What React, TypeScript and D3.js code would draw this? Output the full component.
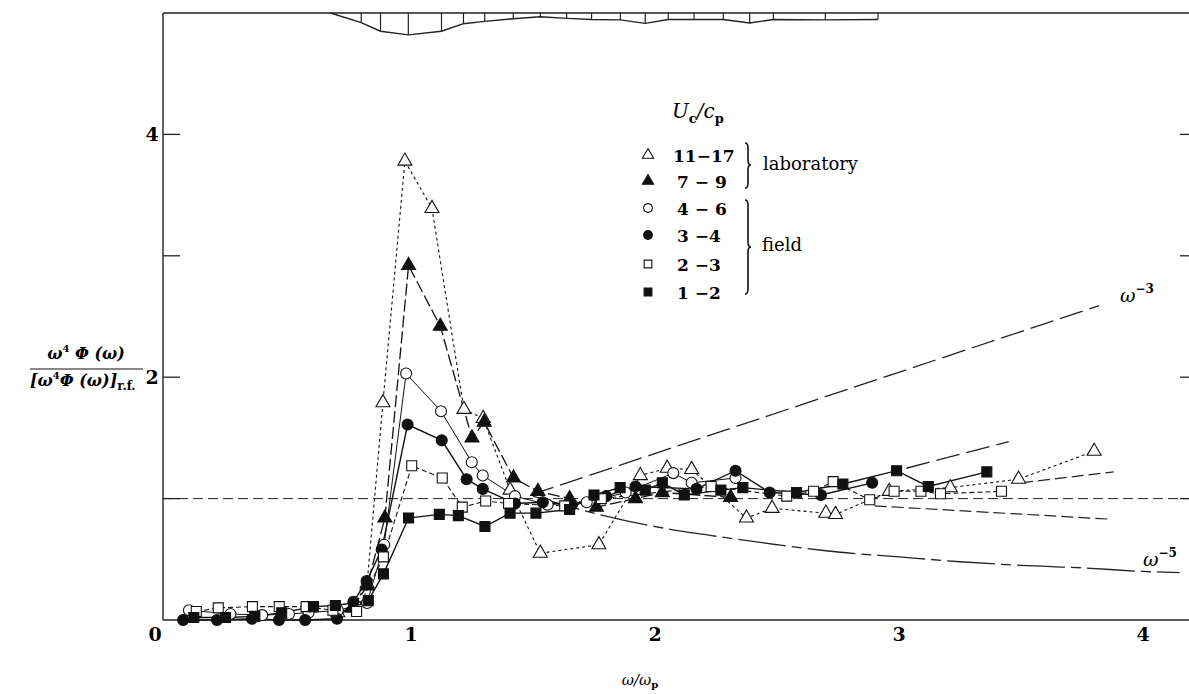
import React from 'react';
import * as d3 from 'd3';

const W = 1189;
const H = 694;

// ---- data: U_c/c_p = 11-17 (laboratory, open triangles)
const s1117X = [0.70, 0.76, 0.82, 0.885, 0.975, 1.086, 1.217, 1.296, 1.406, 1.53, 1.77, 1.94, 2.05, 2.15, 2.375, 2.48, 2.70, 2.74, 2.96, 3.21, 3.49, 3.80];
const s1117Y = [0.06, 0.10, 0.30, 1.79, 3.78, 3.39, 1.735, 1.66, 1.07, 0.55, 0.62, 1.19, 1.25, 1.24, 0.84, 0.92, 0.88, 0.87, 1.06, 1.09, 1.16, 1.39];
// 7-9 (laboratory, filled triangles)
const s79X = [0.76, 0.82, 0.893, 0.99, 1.12, 1.25, 1.30, 1.42, 1.52, 1.65, 1.76, 1.92, 2.03, 2.31];
const s79Y = [0.10, 0.28, 0.84, 2.92, 2.42, 1.50, 1.63, 1.17, 1.06, 1.00, 0.93, 1.00, 1.05, 1.01];
// 4-6 (field, open circles)
const s46X = [0.09, 0.26, 0.39, 0.50, 0.58, 0.70, 0.82, 0.89, 0.98, 1.123, 1.249, 1.294, 1.426, 1.56, 1.72, 1.88, 2.075, 2.15, 2.33];
const s46Y = [0.08, 0.05, 0.04, 0.05, 0.06, 0.08, 0.14, 0.62, 2.03, 1.72, 1.30, 1.19, 1.02, 0.95, 0.97, 1.05, 1.21, 1.13, 1.17];
// 3-4 (field, filled circles)
const s34X = [0.066, 0.205, 0.348, 0.459, 0.566, 0.697, 0.764, 0.818, 0.88, 0.986, 1.126, 1.228, 1.294, 1.426, 1.54, 1.66, 1.80, 1.92, 2.17, 2.33, 2.47, 2.68, 2.89];
const s34Y = [0.0, 0.0, 0.01, 0.0, 0.0, 0.01, 0.15, 0.32, 0.58, 1.61, 1.48, 1.16, 1.08, 0.96, 0.97, 0.95, 1.02, 1.10, 1.08, 1.23, 1.05, 1.03, 1.13];
// 2-3 (field, open squares)
const s23X = [0.12, 0.21, 0.35, 0.46, 0.57, 0.68, 0.777, 0.887, 1.003, 1.128, 1.21, 1.306, 1.40, 1.63, 1.78, 2.23, 2.54, 2.65, 2.73, 2.88, 2.98, 3.09, 3.17, 3.42];
const s23Y = [0.07, 0.10, 0.11, 0.11, 0.11, 0.08, 0.07, 0.52, 1.27, 1.17, 0.93, 0.98, 0.96, 0.94, 1.00, 1.10, 1.02, 1.06, 1.14, 0.99, 1.06, 1.06, 1.04, 1.06];
// 1-2 (field, filled squares)
const s12X = [0.11, 0.24, 0.36, 0.47, 0.60, 0.69, 0.825, 0.887, 0.99, 1.116, 1.194, 1.303, 1.406, 1.512, 1.65, 1.75, 1.857, 1.96, 2.03, 2.12, 2.27, 2.36, 2.58, 2.77, 2.99, 3.12, 3.36];
const s12Y = [0.02, 0.02, 0.03, 0.06, 0.11, 0.12, 0.16, 0.38, 0.84, 0.87, 0.86, 0.77, 0.88, 0.88, 0.91, 1.03, 1.09, 1.07, 1.13, 1.03, 1.07, 1.09, 1.05, 1.12, 1.23, 1.10, 1.22];

// reference curves
const wm3X = [1.49, 3.82];
const wm3Y = [1.03, 2.59];
const wm5X = [1.5, 1.75, 2.0, 2.25, 2.5, 2.75, 3.0, 3.25, 3.5, 3.75, 4.0, 4.15];
const wm5Y = [1.02, 0.88, 0.77, 0.69, 0.62, 0.56, 0.52, 0.48, 0.45, 0.43, 0.40, 0.39];
const guideAX = [3.03, 3.45];
const guideAY = [1.25, 1.47];
const guideBX = [3.50, 3.88];
const guideBY = [1.13, 1.22];
const guideCX = [2.90, 3.87];
const guideCY = [0.94, 0.83];
const refLevel = 1.0;

// top bar diagram (depth below top frame, in y units)
const barX = [0.67, 0.796, 0.875, 0.989, 1.125, 1.215, 1.302, 1.419, 1.53, 1.638, 1.74, 1.858, 1.96, 2.054, 2.16, 2.28, 2.388, 2.485, 2.698, 2.914];
const barD = [0, 0.079, 0.15, 0.18, 0.15, 0.088, 0.069, 0.047, 0.031, 0.044, 0.054, 0.057, 0.085, 0.054, 0.054, 0.054, 0.082, 0.054, 0.057, 0.054];

const xTickLabels = [0, 1, 2, 3, 4];
const yTickLabels = [0, 2, 4];
const yTicks = [1, 2, 3, 4];

const legendNames = ['11\u221217', '7 \u2212 9', '4 \u2212 6', '3 \u22124', '2 \u22123', '1 \u22122'];

const SERIF = '"DejaVu Serif", "Liberation Serif", serif';

type Series = { name: string; xs: number[]; ys: number[]; shape: string; filled: boolean; dash: string; sw: number };

const series: Series[] = [
  { name: legendNames[0], xs: s1117X, ys: s1117Y, shape: 'tri', filled: false, dash: '3 3', sw: 1.1 },
  { name: legendNames[1], xs: s79X, ys: s79Y, shape: 'tri', filled: true, dash: '12 4', sw: 1.3 },
  { name: legendNames[2], xs: s46X, ys: s46Y, shape: 'circ', filled: false, dash: '', sw: 1.0 },
  { name: legendNames[3], xs: s34X, ys: s34Y, shape: 'circ', filled: true, dash: '', sw: 1.4 },
  { name: legendNames[4], xs: s23X, ys: s23Y, shape: 'sq', filled: false, dash: '5 3', sw: 1.1 },
  { name: legendNames[5], xs: s12X, ys: s12Y, shape: 'sq', filled: true, dash: '', sw: 1.4 },
];

function symPath(shape: string, size: number) {
  const t = shape === 'tri' ? d3.symbolTriangle : shape === 'circ' ? d3.symbolCircle : d3.symbolSquare;
  return d3.symbol().type(t).size(size)() as string;
}

function brace(x0: number, y1: number, y2: number, ym: number, w: number) {
  const q = 5;
  return `M${x0},${y1} Q${x0 + w},${y1} ${x0 + w},${y1 + q} L${x0 + w},${ym - q} Q${x0 + w},${ym} ${x0 + 2 * w},${ym} Q${x0 + w},${ym} ${x0 + w},${ym + q} L${x0 + w},${y2 - q} Q${x0 + w},${y2} ${x0},${y2}`;
}

export default function App() {
  const x = d3.scaleLinear().domain([0, 4]).range([167, 1143]);
  const y = d3.scaleLinear().domain([0, 5]).range([620, 13]);
  const mk = (xs: number[], ys: number[]) =>
    d3.line<[number, number]>().x(d => x(d[0])).y(d => y(d[1]))(xs.map((v, i) => [v, ys[i]] as [number, number])) as string;
  const curve = (xs: number[], ys: number[]) =>
    d3.line<[number, number]>().x(d => x(d[0])).y(d => y(d[1])).curve(d3.curveMonotoneX)(xs.map((v, i) => [v, ys[i]] as [number, number])) as string;

  const axisLeft = 163;
  const axisBottom = y(0);
  const top = y(5);
  const barPts = barX.map((v, i) => [v, 5 - barD[i]] as [number, number]);

  return (
    <svg width={W} height={H} style={{ position: 'absolute', left: 0, top: 0, background: '#fff' }} fontFamily={SERIF}>
      <rect x={0} y={0} width={W} height={H} fill="#fff" />
      {/* frame */}
      <line x1={axisLeft} y1={top} x2={W} y2={top} stroke="#222" strokeWidth={1.4} />
      <line x1={axisLeft} y1={top} x2={axisLeft} y2={axisBottom} stroke="#222" strokeWidth={1.4} />
      <line x1={axisLeft} y1={axisBottom} x2={W} y2={axisBottom} stroke="#222" strokeWidth={1.4} />
      {yTicks.map(t => (
        <g key={'yt' + t}>
          <line x1={axisLeft} x2={axisLeft + 17} y1={y(t)} y2={y(t)} stroke="#222" strokeWidth={1.3} />
          <line x1={W - 9} x2={W} y1={y(t)} y2={y(t)} stroke="#222" strokeWidth={1.3} />
        </g>
      ))}
      {yTickLabels.map(t => (
        <text key={'yl' + t} x={t === 0 ? 155 : 152} y={t === 0 ? 641 : y(t) + 7} textAnchor="middle" fontSize={19} fontWeight="bold">{t}</text>
      ))}
      {xTickLabels.filter(t => t > 0).map(t => (
        <text key={'xl' + t} x={x(t)} y={641} textAnchor="middle" fontSize={19} fontWeight="bold">{t}</text>
      ))}

      {/* top bar diagram */}
      <path d={d3.line<[number, number]>().x(d => x(d[0])).y(d => y(d[1]))(barPts) as string} fill="none" stroke="#222" strokeWidth={1.4} />
      {barPts.slice(1).map((p, i) => (
        <line key={'bar' + i} x1={x(p[0])} x2={x(p[0])} y1={top} y2={y(p[1])} stroke="#222" strokeWidth={1.2} />
      ))}

      {/* reference lines */}
      <line x1={axisLeft} x2={W} y1={y(refLevel)} y2={y(refLevel)} stroke="#222" strokeWidth={1} strokeDasharray="10 5" />
      <path d={mk(wm3X, wm3Y)} fill="none" stroke="#222" strokeWidth={1.3} strokeDasharray="24 7" />
      <path d={curve(wm5X, wm5Y)} fill="none" stroke="#222" strokeWidth={1.3} strokeDasharray="48 6 10 6" />
      <path d={mk(guideAX, guideAY)} fill="none" stroke="#222" strokeWidth={1.3} strokeDasharray="24 7" />
      <path d={mk(guideBX, guideBY)} fill="none" stroke="#222" strokeWidth={1.2} strokeDasharray="12 5" />
      <path d={mk(guideCX, guideCY)} fill="none" stroke="#222" strokeWidth={1.2} strokeDasharray="12 5" />

      {/* series lines */}
      {series.map(s => (
        <path key={'l' + s.name} d={mk(s.xs, s.ys)} fill="none" stroke="#111" strokeWidth={s.sw} strokeDasharray={s.dash || undefined} />
      ))}
      {/* markers */}
      {series.map(s => (
        <g key={'m' + s.name}>
          {s.xs.map((v, i) => (
            <path key={i} d={symPath(s.shape, s.shape === 'tri' ? 85 : s.shape === 'circ' ? 95 : 100)}
              transform={`translate(${x(v)},${y(s.ys[i])})`}
              fill={s.filled ? '#111' : '#fff'} stroke="#111" strokeWidth={1.1} />
          ))}
        </g>
      ))}

      {/* curve labels */}
      <text x={1120} y={302} fontSize={19} fontStyle="italic">ω<tspan dy={-9} fontSize={12} fontStyle="normal" fontWeight="bold">−3</tspan></text>
      <text x={1143} y={566} fontSize={19} fontStyle="italic">ω<tspan dy={-9} fontSize={12} fontStyle="normal" fontWeight="bold">−5</tspan></text>

      {/* legend */}
      <text x={672} y={118} fontSize={20} fontStyle="italic">U<tspan dy={5} fontSize={13} fontStyle="normal" fontWeight="bold">c</tspan><tspan dy={-5}>/c</tspan><tspan dy={5} fontSize={13} fontStyle="normal" fontWeight="bold">p</tspan></text>
      {series.map((s, i) => {
        const ly = [155, 181, 208, 235, 264, 292][i];
        return (
          <g key={'lg' + i}>
            <path d={symPath(s.shape, s.shape === 'tri' ? 55 : 60)} transform={`translate(648,${ly})`} fill={s.filled ? '#111' : '#fff'} stroke="#111" strokeWidth={1.1} />
            <text x={i === 0 ? 673 : 677} y={ly + 7} fontSize={17} fontWeight="bold">{s.name}</text>
          </g>
        );
      })}
      <path d={brace(745, 143, 188, 165, 3)} fill="none" stroke="#111" strokeWidth={1.6} />
      <path d={brace(745, 200, 294, 247, 3)} fill="none" stroke="#111" strokeWidth={1.6} />
      <text x={763} y={170} fontSize={18}>laboratory</text>
      <text x={762} y={251} fontSize={18}>field</text>

      {/* y label */}
      <text x={86} y={359} textAnchor="middle" fontSize={16} fontWeight="bold" fontStyle="italic">ω<tspan dy={-7} fontSize={10} fontStyle="normal">4</tspan><tspan dy={7}> Φ (ω)</tspan></text>
      <line x1={30} x2={143} y1={369} y2={369} stroke="#111" strokeWidth={1.2} />
      <text x={30} y={386} fontSize={16} fontWeight="bold" fontStyle="italic">[ω<tspan dy={-7} fontSize={10} fontStyle="normal">4</tspan><tspan dy={7}>Φ (ω)]</tspan><tspan dy={4} fontSize={12} fontStyle="normal">r.f.</tspan></text>

      {/* x label */}
      <text x={640} y={685} textAnchor="middle" fontSize={15} fontStyle="italic">ω/ω<tspan dy={3} fontSize={10} fontStyle="normal" fontWeight="bold">p</tspan></text>
    </svg>
  );
}
